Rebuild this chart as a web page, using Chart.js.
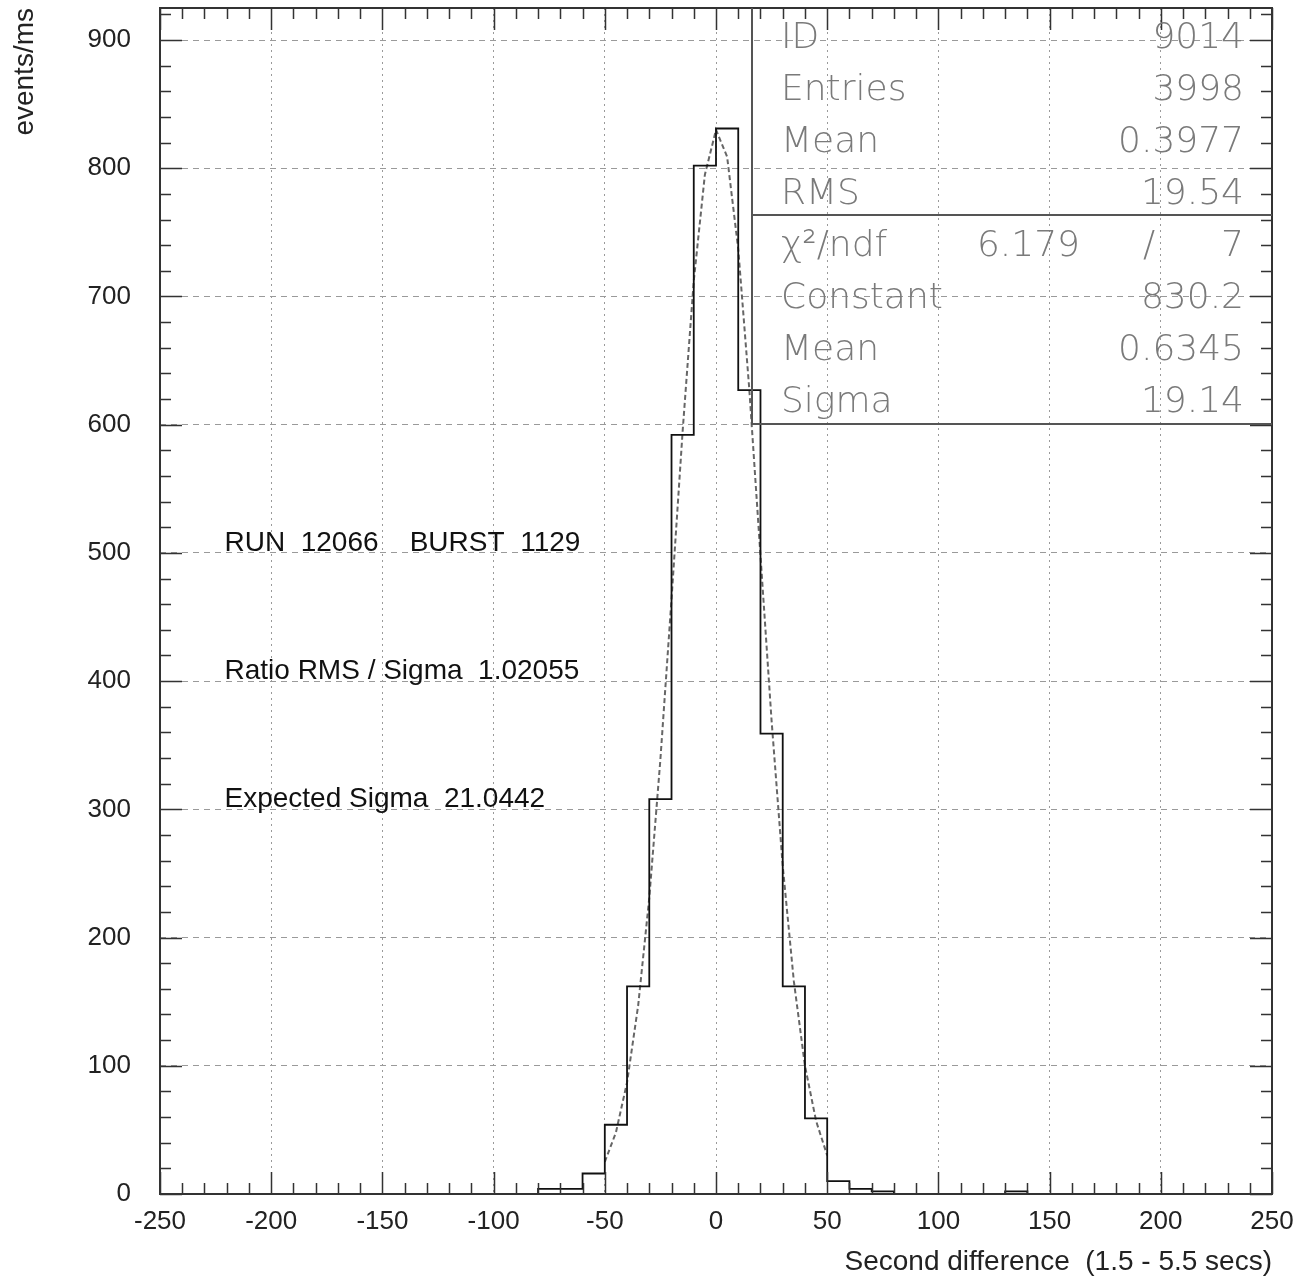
<!DOCTYPE html>
<html lang="en">
<head>
    <meta charset="UTF-8">
    <title>Second difference</title>
    <script src="https://cdn.jsdelivr.net/npm/chart.js@4.4.1/dist/chart.umd.min.js"></script>
    <style>
        html, body { margin: 0; padding: 0; background: #fff; }
        .chart-box { width: 1304px; height: 1281px; }
    </style>
</head>
<body>
<div class="chart-box"><canvas id="hist"></canvas></div>

<script>
    // histogram bins (10 wide), lower edges
    var binLow = [-250,-240,-230,-220,-210,-200,-190,-180,-170,-160,
                  -150,-140,-130,-120,-110,-100,-90,-80,-70,-60,
                  -50,-40,-30,-20,-10,0,10,20,30,40,
                  50,60,70,80,90,100,110,120,130,140,
                  150,160,170,180,190,200,210,220,230,240];
    var binHigh = 250;
    var counts = [0,0,0,0,0,0,0,0,0,0,
                  0,0,0,0,0,0,0,4,4,16,
                  54,162,308,592,802,831,627,359,162,59,
                  10,4,2,0,0,0,0,0,2,0,
                  0,0,0,0,0,0,0,0,0,0];

    // gaussian fit curve
    var fitX = [-50,-45,-40,-35,-30,-25,-20,-15,-10,-5,0,5,10,15,20,25,30,35,40,45,50];
    var fitY = [25,48,87,147,231,339,464,595,712,795,830,809,737,627,498,369,256,166,100,57,30];

    // axis labels
    var xTicks = [-250,-200,-150,-100,-50,0,50,100,150,200,250];
    var yTicks = [0,100,200,300,400,500,600,700,800,900];

    // stats box
    var statLabels = ['ID', 'Entries', 'Mean', 'RMS'];
    var statValues = ['9014', '3998', '0.3977', '19.54'];
    var chi2 = '6.179';
    var ndf = '7';
    var fitLabels = ['Constant', 'Mean', 'Sigma'];
    var fitValues = ['830.2', '0.6345', '19.14'];

    // text notes on the plot
    var notes = ['RUN  12066    BURST  1129', 'Ratio RMS / Sigma  1.02055', 'Expected Sigma  21.0442'];
    var noteX = -221;
    var noteY = [500, 400, 300];

    var histPoints = binLow.map(function (x, i) { return { x: x, y: counts[i] }; });
    histPoints.push({ x: binHigh, y: counts[counts.length - 1] });
    var fitPoints = fitX.map(function (x, i) { return { x: x, y: fitY[i] }; });

    var tickFont = { family: 'Liberation Sans, Arial, sans-serif', size: 26 };
    var titleFont = { family: 'Liberation Sans, Arial, sans-serif', size: 28 };

    // frame, inside ticks, stats box and notes
    var decor = {
        id: 'decor',
        afterDraw: function (chart) {
            var ctx = chart.ctx;
            var a = chart.chartArea;
            var xs = chart.scales.x, ys = chart.scales.y;
            ctx.save();

            // ticks on all four sides
            ctx.strokeStyle = '#333';
            ctx.lineWidth = 1.5;
            ctx.beginPath();
            for (var v = -250; v <= 250; v += 10) {
                var px = Math.round(xs.getPixelForValue(v)) + 0.5;
                var len = (v % 50 === 0) ? 22 : 11;
                ctx.moveTo(px, a.bottom); ctx.lineTo(px, a.bottom - len);
                ctx.moveTo(px, a.top); ctx.lineTo(px, a.top + len);
            }
            for (var w = 0; w <= 920; w += 20) {
                var py = Math.round(ys.getPixelForValue(w)) + 0.5;
                var l2 = (w % 100 === 0) ? 22 : 11;
                ctx.moveTo(a.left, py); ctx.lineTo(a.left + l2, py);
                ctx.moveTo(a.right, py); ctx.lineTo(a.right - l2, py);
            }
            ctx.stroke();

            // frame
            ctx.lineWidth = 2;
            ctx.strokeRect(a.left, a.top, a.right - a.left, a.bottom - a.top);

            // stats box
            var row = 52;
            var bx = a.right - 520, by = a.top;
            ctx.strokeStyle = '#555';
            ctx.lineWidth = 2;
            ctx.beginPath();
            ctx.moveTo(bx, by); ctx.lineTo(bx, by + row * 8);
            ctx.lineTo(a.right, by + row * 8);
            ctx.moveTo(bx, by + row * 4 - 1); ctx.lineTo(a.right, by + row * 4 - 1);
            ctx.stroke();

            ctx.fillStyle = '#7a7a7a';
            ctx.font = '200 36px "DejaVu Sans", sans-serif';
            ctx.textBaseline = 'alphabetic';
            var lx = bx + 29, rx = a.right - 28;
            statLabels.forEach(function (s, i) {
                var base = by + 40 + row * i;
                ctx.textAlign = 'left'; ctx.fillText(s, lx, base);
                ctx.textAlign = 'right'; ctx.fillText(statValues[i], rx, base);
            });
            var b4 = by + 40 + row * 4;
            ctx.textAlign = 'left'; ctx.fillText('\u03c7\u00b2/ndf', lx, b4);
            ctx.textAlign = 'right'; ctx.fillText(chi2, rx - 164, b4);
            ctx.textAlign = 'center'; ctx.fillText('/', rx - 95, b4);
            ctx.textAlign = 'right'; ctx.fillText(ndf, rx, b4);
            fitLabels.forEach(function (s, i) {
                var base = by + 40 + row * (5 + i);
                ctx.textAlign = 'left'; ctx.fillText(s, lx, base);
                ctx.textAlign = 'right'; ctx.fillText(fitValues[i], rx, base);
            });

            // notes
            ctx.fillStyle = '#111';
            ctx.font = '28px "Liberation Sans", Arial, sans-serif';
            ctx.textAlign = 'left';
            notes.forEach(function (t, i) {
                ctx.fillText(t, xs.getPixelForValue(noteX), ys.getPixelForValue(noteY[i]) - 2);
            });
            ctx.restore();
        }
    };

    var ctx = document.getElementById('hist').getContext('2d');
    var histChart = new Chart(ctx, {
        type: 'line',
        data: {
            datasets: [{
                label: 'histogram',
                data: histPoints,
                stepped: 'before',
                borderColor: '#111',
                borderWidth: 1.8,
                pointRadius: 0,
                fill: false
            }, {
                label: 'fit',
                data: fitPoints,
                borderColor: '#666',
                borderWidth: 2,
                borderDash: [5, 3],
                pointRadius: 0,
                tension: 0,
                fill: false
            }]
        },
        options: {
            responsive: true,
            maintainAspectRatio: false,
            animation: false,
            events: [],
            layout: { padding: { top: 8, right: 32, bottom: 0, left: 0 } },
            plugins: {
                legend: { display: false },
                tooltip: { enabled: false },
                title: { display: false }
            },
            scales: {
                x: {
                    type: 'linear',
                    min: -250,
                    max: 250,
                    afterBuildTicks: function (s) {
                        s.ticks = xTicks.map(function (v) { return { value: v }; });
                    },
                    afterFit: function (s) {
                        s.height = 87;
                        s.paddingLeft = 0; s.paddingRight = 0;
                    },
                    ticks: { color: '#222', font: tickFont, padding: 12, maxRotation: 0 },
                    grid: { color: '#9a9a9a', lineWidth: 1, drawTicks: false },
                    border: { display: false, dash: [2, 4] },
                    title: {
                        display: true,
                        text: 'Second difference  (1.5 - 5.5 secs)',
                        align: 'end',
                        color: '#222',
                        font: titleFont,
                        padding: { top: 0, bottom: 2 }
                    }
                },
                y: {
                    type: 'linear',
                    min: 0,
                    max: 925,
                    afterBuildTicks: function (s) {
                        s.ticks = yTicks.map(function (v) { return { value: v }; });
                    },
                    afterFit: function (s) {
                        s.width = 160;
                        s.paddingTop = 0; s.paddingBottom = 0;
                    },
                    ticks: { color: '#222', font: tickFont, padding: 29 },
                    grid: { color: '#9a9a9a', lineWidth: 1, drawTicks: false },
                    border: { display: false, dash: [6, 5] },
                    title: {
                        display: true,
                        text: 'events/ms',
                        align: 'end',
                        color: '#222',
                        font: titleFont,
                        padding: { top: 8, bottom: 0 }
                    }
                }
            }
        },
        plugins: [decor]
    });
</script>
</body>
</html>
